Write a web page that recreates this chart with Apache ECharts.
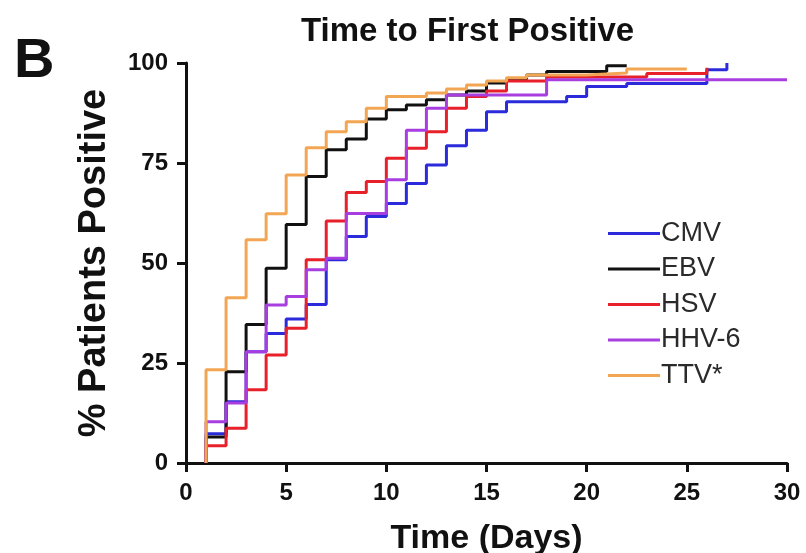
<!DOCTYPE html>
<html>
<head>
<meta charset="utf-8">
<title>Time to First Positive</title>
<script src="https://cdn.jsdelivr.net/npm/echarts@6/dist/echarts.min.js"></script>
<style>
  html, body { margin: 0; padding: 0; background: #fff; }
  #chart { width: 806px; height: 553px; }
</style>
</head>
<body>
<div id="chart"></div>
<script>
// step points: day at which each value starts
const cmvDays = [1, 1, 2, 3, 4, 5, 6, 7, 8, 9, 10, 11, 12, 13, 14, 15, 16, 19, 20, 22, 26, 27]
const cmvPct = [0, 7.3, 15.3, 27.8, 32.4, 36.0, 39.6, 50.8, 56.6, 61.6, 64.9, 69.9, 74.5, 79.3, 83.2, 87.8, 90.3, 91.6, 94.1, 94.9, 98.3, 100]

const ebvDays = [1, 1, 2, 3, 4, 5, 6, 7, 8, 9, 10, 11, 12, 13, 14, 15, 16, 17, 18, 21, 22]
const ebvPct = [0, 6.5, 22.8, 34.6, 48.7, 59.6, 71.6, 78.3, 81.0, 86.0, 88.3, 89.5, 90.8, 92.0, 93.0, 95.0, 96.0, 97.0, 97.9, 99.3, 99.3]

const hsvDays = [1, 1, 2, 3, 4, 5, 6, 7, 8, 9, 10, 11, 12, 13, 14, 15, 16, 18, 23, 26]
const hsvPct = [0, 4.3, 8.7, 18.3, 27.0, 33.7, 50.8, 60.5, 67.6, 70.4, 76.2, 78.7, 82.8, 88.7, 91.6, 93.0, 95.5, 96.5, 97.4, 98.8]

const hhvDays = [1, 1, 2, 3, 4, 5, 6, 7, 8, 10, 11, 12, 13, 18, 30]
const hhvPct = [0, 10.3, 15.0, 27.8, 39.5, 41.6, 48.3, 51.2, 62.4, 70.8, 83.2, 88.7, 92.0, 95.8, 95.8]

const ttvDays = [1, 1, 2, 3, 4, 5, 6, 7, 8, 9, 10, 12, 13, 14, 15, 16, 17, 20, 22, 25]
const ttvPct = [0, 23.3, 41.3, 55.8, 62.3, 72.0, 78.8, 82.8, 85.3, 88.7, 91.6, 92.5, 93.5, 94.5, 95.5, 96.3, 97.0, 97.5, 98.5, 98.5]

const names = ['CMV', 'EBV', 'HSV', 'HHV-6', 'TTV*']
const colors = ['#2b2bdc', '#111111', '#e8202a', '#a83ee0', '#f2a654']
const xTicks = [0, 5, 10, 15, 20, 25, 30]
const yTicks = [0, 25, 50, 75, 100]

const font = 'Liberation Sans, Arial, sans-serif'

function pairs (days, vals) {
  return days.map((d, i) => [d, vals[i]])
}

const seriesData = [
  pairs(cmvDays, cmvPct),
  pairs(ebvDays, ebvPct),
  pairs(hsvDays, hsvPct),
  pairs(hhvDays, hhvPct),
  pairs(ttvDays, ttvPct)
]

const chart = echarts.init(document.getElementById('chart'))

const option = {
  animation: false,
  backgroundColor: '#fff',
  title: {
    text: 'Time to First Positive',
    left: 296,
    top: 10,
    textStyle: { fontFamily: font, fontSize: 33, fontWeight: 'bold', color: '#111' }
  },
  graphic: [{
    type: 'text',
    left: 14,
    top: 34,
    style: { text: 'B', font: 'bold 56px ' + font, fill: '#111' }
  }],
  legend: {
    orient: 'vertical',
    left: 603,
    top: 215,
    icon: 'rect',
    itemWidth: 52,
    itemHeight: 3,
    itemGap: 8.5,
    data: names,
    textStyle: { fontFamily: font, fontSize: 27, color: '#2a2a2a', padding: [0, 0, 0, -4] }
  },
  // keep the plot box fixed, the x title is allowed to run off the bottom
  grid: { left: 186, right: 19, top: 63, bottom: 90, containLabel: false, outerBoundsMode: 'none' },
  xAxis: {
    type: 'value',
    min: 0,
    max: 30,
    interval: 5,
    name: 'Time (Days)',
    nameLocation: 'middle',
    nameGap: 59,
    nameTextStyle: { fontFamily: font, fontSize: 34, fontWeight: 'bold', color: '#111' },
    axisLine: { show: true, lineStyle: { color: '#111', width: 3 } },
    axisTick: { show: true, length: 9, lineStyle: { color: '#111', width: 3 } },
    axisLabel: {
      margin: 18,
      fontFamily: font, fontSize: 24, fontWeight: 'bold', color: '#111',
      formatter: v => xTicks.includes(v) ? String(v) : ''
    },
    splitLine: { show: false }
  },
  yAxis: {
    type: 'value',
    min: 0,
    max: 100,
    interval: 25,
    name: '% Patients Positive',
    nameLocation: 'middle',
    nameGap: 72,
    nameTextStyle: { fontFamily: font, fontSize: 38, fontWeight: 'bold', color: '#111' },
    axisLine: { show: true, lineStyle: { color: '#111', width: 3 } },
    axisTick: { show: true, length: 9, lineStyle: { color: '#111', width: 3 } },
    axisLabel: {
      margin: 18,
      fontFamily: font, fontSize: 24, fontWeight: 'bold', color: '#111',
      formatter: v => yTicks.includes(v) ? String(v) : ''
    },
    splitLine: { show: false }
  },
  series: names.map((n, i) => ({
    name: n,
    type: 'line',
    step: 'end',
    data: seriesData[i],
    showSymbol: false,
    symbol: 'none',
    color: colors[i],
    lineStyle: { width: 3, color: colors[i] },
    z: 2 + i
  }))
}

chart.setOption(option)
</script>
</body>
</html>
